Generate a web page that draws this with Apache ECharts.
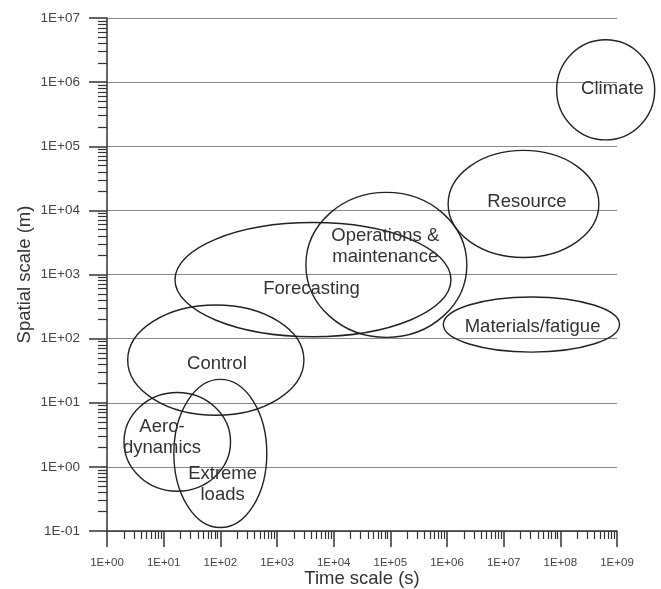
<!DOCTYPE html>
<html>
<head>
<meta charset="utf-8">
<script src="https://cdn.jsdelivr.net/npm/echarts@6/dist/echarts.min.js"></script>
<style>
html, body { margin: 0; padding: 0; background: #fff; }
#chart { width: 661px; height: 589px; }
</style>
</head>
<body>
<div id="chart"></div>
<script>
// every position is in decades: log10 of seconds (time) and of metres (space)
var areaNames   = ['Climate', 'Resource', 'Operations & maintenance', 'Forecasting', 'Materials/fatigue', 'Control', 'Aerodynamics', 'Extreme loads'];
var centerTime  = [8.80, 7.35, 4.93, 3.635, 7.49, 1.92, 1.24, 2.00];
var centerSpace = [5.88, 4.10, 3.15, 2.92, 2.22, 1.665, 0.39, 0.21];
var halfTime    = [0.865, 1.33, 1.42, 2.435, 1.555, 1.555, 0.94, 0.82];
var halfSpace   = [0.78, 0.835, 1.13, 0.89, 0.43, 0.86, 0.77, 1.155];

var labelText   = ['Climate', 'Resource', 'Operations &\nmaintenance', 'Forecasting', 'Materials/fatigue', 'Control', 'Aero-\ndynamics', 'Extreme\nloads'];
var labelTime   = [8.92, 7.41, 4.91, 3.61, 7.51, 1.94, 0.97, 2.04];
var labelSpace  = [5.90, 4.13, 3.44, 2.77, 2.18, 1.60, 0.46, -0.28];

var timeRange   = [0, 9];   // 1E+00 .. 1E+09 s
var spaceRange  = [-1, 7];  // 1E-01 .. 1E+07 m
var minorSteps  = [2, 3, 4, 5, 6, 7, 8, 9];

var fontName = '"Liberation Sans", Arial, sans-serif';
var axisColor = '#333';

// minor ticks at 2..9 inside each decade
function minorTicks(range) {
  var list = [];
  for (var k = range[0]; k < range[1]; k++) {
    for (var j = 0; j < minorSteps.length; j++) {
      list.push(k + Math.log10(minorSteps[j]));
    }
  }
  return list;
}

function expLabel(v) {
  var e = Math.round(v);
  var a = Math.abs(e);
  return '1E' + (e < 0 ? '-' : '+') + (a < 10 ? '0' : '') + a;
}

var ellipseData = [];
for (var i = 0; i < areaNames.length; i++) {
  ellipseData.push([centerTime[i], centerSpace[i], halfTime[i], halfSpace[i]]);
}
var labelData = [];
for (var i = 0; i < labelText.length; i++) {
  labelData.push([labelTime[i], labelSpace[i]]);
}

var chart = echarts.init(document.getElementById('chart'));

var option = {
  animation: false,
  backgroundColor: '#fff',
  grid: { left: 107, right: 44, top: 18, bottom: 58, containLabel: false, outerBoundsMode: 'none' },
  xAxis: [
    {
      type: 'value', min: timeRange[0], max: timeRange[1], interval: 1, position: 'bottom',
      name: 'Time scale (s)', nameLocation: 'middle', nameGap: 38, nameMoveOverlap: false,
      nameTextStyle: { fontSize: 18.5, color: '#333', fontFamily: fontName },
      axisLine: { show: true, onZero: false, lineStyle: { color: axisColor, width: 1.5 } },
      axisTick: { show: true, length: 16, lineStyle: { color: axisColor, width: 1.5 } },
      axisLabel: { formatter: expLabel, fontSize: 11.5, color: '#444', margin: 26, fontFamily: fontName },
      splitLine: { show: false }
    },
    {
      type: 'value', min: timeRange[0], max: timeRange[1], position: 'bottom',
      axisLine: { show: false, onZero: false },
      axisTick: { show: true, length: 8, customValues: minorTicks(timeRange), lineStyle: { color: axisColor, width: 1.2 } },
      axisLabel: { show: false },
      splitLine: { show: false }
    }
  ],
  yAxis: [
    {
      type: 'value', min: spaceRange[0], max: spaceRange[1], interval: 1, position: 'left',
      name: 'Spatial scale (m)', nameLocation: 'middle', nameGap: 73, nameMoveOverlap: false,
      nameTextStyle: { fontSize: 18.5, color: '#333', fontFamily: fontName },
      axisLine: { show: true, onZero: false, lineStyle: { color: axisColor, width: 1.5 } },
      axisTick: { show: true, length: 18, lineStyle: { color: axisColor, width: 1.5 } },
      axisLabel: { formatter: expLabel, fontSize: 13.5, color: '#444', margin: 27, fontFamily: fontName },
      splitLine: { show: true, lineStyle: { color: '#888', width: 1 } }
    },
    {
      type: 'value', min: spaceRange[0], max: spaceRange[1], position: 'left',
      axisLine: { show: false, onZero: false },
      axisTick: { show: true, length: 9, customValues: minorTicks(spaceRange), lineStyle: { color: axisColor, width: 1.2 } },
      axisLabel: { show: false },
      splitLine: { show: false }
    }
  ],
  series: [
    {
      type: 'custom',
      name: 'areas',
      silent: true,
      clip: false,
      data: ellipseData,
      renderItem: function (params, api) {
        var c = api.coord([api.value(0), api.value(1)]);
        var s = api.size([api.value(2), api.value(3)]);
        return {
          type: 'ellipse',
          shape: { cx: c[0], cy: c[1], rx: s[0], ry: s[1] },
          style: { fill: 'none', stroke: '#222', lineWidth: 1.4 }
        };
      }
    },
    {
      type: 'custom',
      name: 'labels',
      silent: true,
      clip: false,
      data: labelData,
      renderItem: function (params, api) {
        var c = api.coord([api.value(0), api.value(1)]);
        return {
          type: 'text',
          x: c[0],
          y: c[1],
          style: {
            text: labelText[params.dataIndex],
            align: 'center',
            verticalAlign: 'middle',
            fontSize: 18.5,
            lineHeight: 21,
            fontFamily: fontName,
            fill: '#333'
          }
        };
      }
    }
  ]
};

chart.setOption(option);
</script>
</body>
</html>
